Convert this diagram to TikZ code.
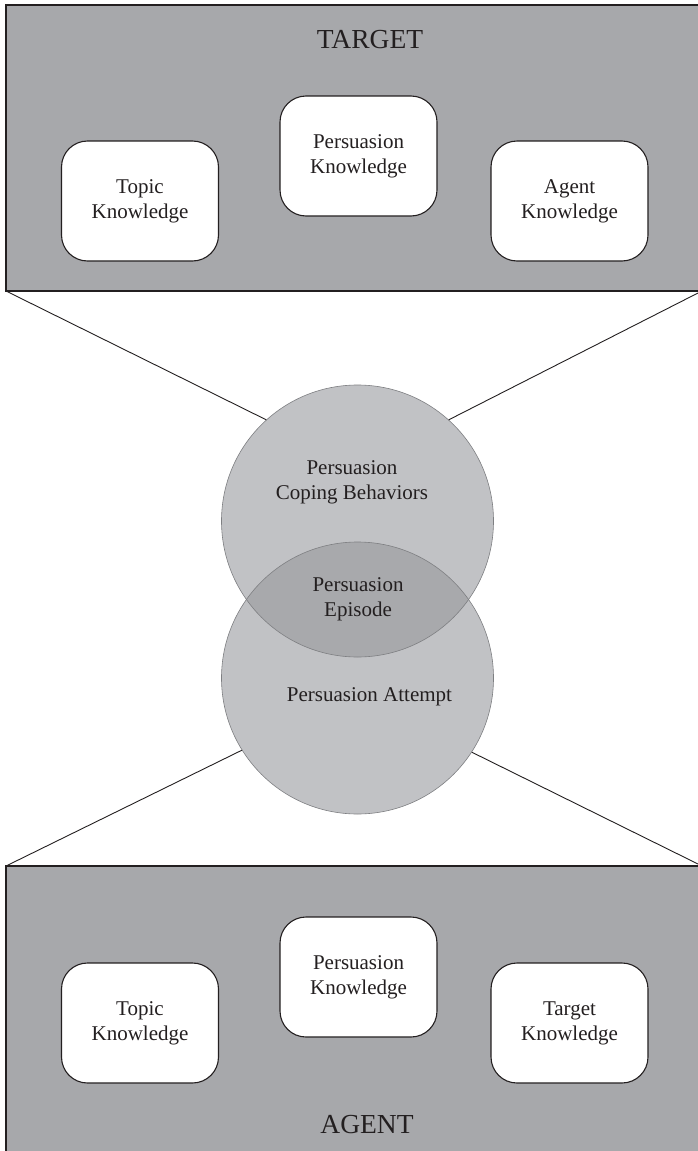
\documentclass[tikz,border=0pt]{standalone}
\usepackage{fontspec}
\setmainfont{Liberation Serif}
\definecolor{panelgray}{HTML}{A7A8AB}
\definecolor{circgray}{HTML}{C1C2C5}
\definecolor{lensgray}{HTML}{A8A9AC}
\definecolor{outlinegray}{HTML}{7E7F82}
\definecolor{inkc}{HTML}{231F20}
\begin{document}
\begin{tikzpicture}[x=1pt,y=-1pt,
  panel/.style={rectangle, draw=inkc, line width=1.1pt, fill=panelgray, outer sep=0pt, inner sep=0pt, anchor=north west},
  kbox/.style={rectangle, draw=inkc, line width=1.1pt, fill=white, rounded corners=26pt, minimum width=157pt, minimum height=120pt, align=center, inner sep=0pt, outer sep=0pt, text=inkc, font=\fontsize{21}{25}\selectfont},
  biglbl/.style={anchor=base, text=inkc, inner sep=0pt, font=\fontsize{27.5}{32}\selectfont},
  circlbl/.style={align=center, text=inkc, inner sep=0pt, font=\fontsize{21}{25}\selectfont},
  circnode/.style={circle, minimum size=272pt, inner sep=0pt, outer sep=0pt, fill=circgray},
  conn/.style={draw=inkc, line width=0.9pt},
  outl/.style={draw=outlinegray, line width=0.6pt}
]
\useasboundingbox (0,0) rectangle (698,1151);
\fill[white] (0,0) rectangle (698,1151);

% panels
\node[panel, minimum width=694pt, minimum height=286pt] (target) at (6,5) {};
\node[panel, minimum width=694pt, minimum height=300pt] (agent) at (6,866) {};

\node[biglbl] (targetlbl) at (370,48) {TARGET};
\node[biglbl] (agentlbl) at (367,1133) {AGENT};

% knowledge boxes
\node[kbox] (tTopic) at (140,201) {Topic\\Knowledge};
\node[kbox] (tPers) at (358.5,156) {Persuasion\\Knowledge};
\node[kbox] (tAgent) at (569.5,201) {Agent\\Knowledge};

\node[kbox] (aTopic) at (140,1023) {Topic\\Knowledge};
\node[kbox] (aPers) at (358.5,977) {Persuasion\\Knowledge};
\node[kbox] (aTarget) at (569.5,1023) {Target\\Knowledge};

% circles
\node[circnode] (cUp) at (357.5,521) {};
\node[circnode] (cLow) at (357.5,678) {};

% connectors
\draw[conn] (target.south west) -- (cUp.132.5);
\draw[conn] (698,293) -- (cUp.48.4);
\draw[conn] (agent.north west) -- (cLow.212);
\draw[conn] (698,864) -- (cLow.327.4);

% lens
\begin{scope}
  \clip (cUp.center) circle[radius=136pt];
  \fill[lensgray] (cLow.center) circle[radius=136pt];
\end{scope}
\draw[outl] (cUp.center) circle[radius=136pt];
\draw[outl] (cLow.center) circle[radius=136pt];

% circle labels
\node[circlbl] (coping) at (352,482) {Persuasion\\Coping Behaviors};
\node[circlbl] (episode) at (358,599.5) {Persuasion\\Episode};
\node[circlbl] (attempt) at (369.5,697) {Persuasion Attempt};
\end{tikzpicture}
\end{document}
